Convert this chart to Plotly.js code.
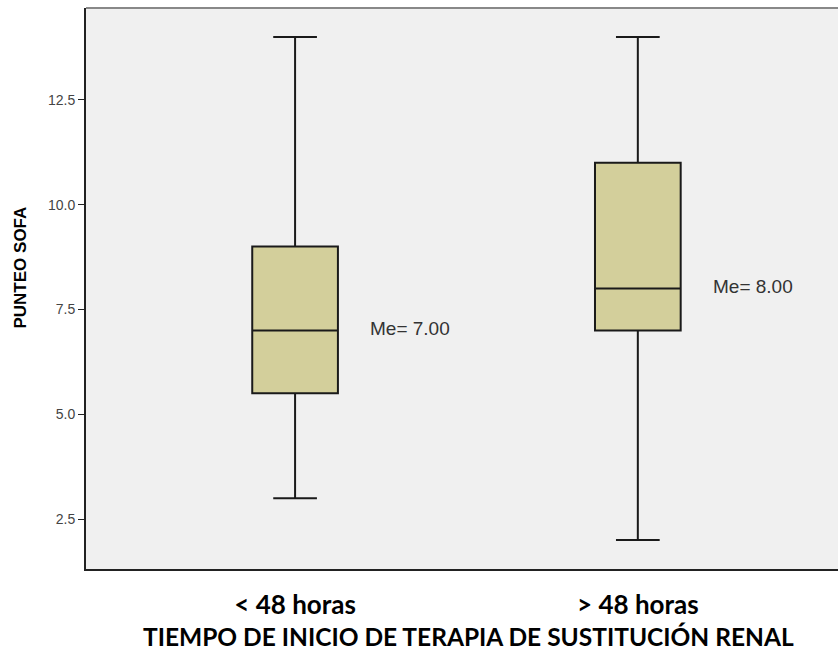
<!DOCTYPE html>
<html>
<head>
<meta charset="utf-8">
<script src="https://cdn.plot.ly/plotly-3.0.1.min.js"></script>
<style>html,body{margin:0;padding:0;background:#fff;}#chart{width:838px;height:655px;}</style>
</head>
<body>
<div id="chart"></div>
<script>
const categories = ["< 48 horas", "> 48 horas"];
const lowerWhisker = [3, 2];
const q1Values = [5.5, 7];
const medians = [7, 8];
const q3Values = [9, 11];
const upperWhisker = [14, 14];
const yTicks = [2.5, 5.0, 7.5, 10.0, 12.5];

const xPos = categories.map((c, i) => i);

const trace = {
  type: 'box',
  x: xPos,
  q1: q1Values,
  median: medians,
  q3: q3Values,
  lowerfence: lowerWhisker,
  upperfence: upperWhisker,
  width: 0.25,
  whiskerwidth: 0.51,
  fillcolor: '#d3cf9b',
  line: {color: '#1a1a1a', width: 2},
  boxpoints: false,
  hoverinfo: 'skip',
  showlegend: false
};

const annotations = medians.map((m, i) => ({
  x: xPos[i] + 0.213,
  y: m,
  xref: 'x', yref: 'y',
  text: 'Me= ' + m.toFixed(2),
  showarrow: false,
  xanchor: 'left',
  yanchor: 'middle',
  yshift: 2,
  font: {family: 'Liberation Sans, Arial, sans-serif', size: 19, color: '#333'}
}));

annotations.push({
  text: 'TIEMPO DE INICIO DE TERAPIA DE SUSTITUCIÓN RENAL',
  xref: 'paper', yref: 'paper',
  x: 0.508, y: 0,
  yshift: -67,
  showarrow: false,
  xanchor: 'center', yanchor: 'middle',
  font: {family: 'Lato, sans-serif', size: 24.5, color: '#000', weight: 'bold'}
});

annotations.push({
  text: 'PUNTEO SOFA',
  xref: 'paper', yref: 'paper',
  x: 0, y: 0.5365,
  xshift: -65.5,
  textangle: -90,
  showarrow: false,
  xanchor: 'center', yanchor: 'middle',
  font: {family: 'Liberation Sans, Arial, sans-serif', size: 17, color: '#000', weight: 'bold'}
});

const layout = {
  width: 838, height: 655,
  margin: {l: 86, r: 0, t: 8, b: 86},
  paper_bgcolor: '#ffffff',
  plot_bgcolor: '#f0f0f0',
  xaxis: {
    range: [-0.61, 1.584],
    tickmode: 'array',
    tickvals: xPos,
    ticktext: categories,
    showgrid: false,
    zeroline: false,
    showline: true,
    linecolor: '#222',
    linewidth: 2,
    ticks: '',
    tickfont: {family: 'Lato, sans-serif', size: 26, color: '#000', weight: 'bold'},
    ticklabelstandoff: 12
  },
  yaxis: {
    range: [1.31, 14.69],
    tickmode: 'array',
    tickvals: yTicks,
    ticktext: yTicks.map(v => v.toFixed(1)),
    showgrid: false,
    zeroline: false,
    showline: true,
    linecolor: '#222',
    linewidth: 2,
    ticks: 'outside',
    ticklen: 6,
    tickcolor: '#222',
    tickwidth: 1,
    tickfont: {family: 'Liberation Sans, Arial, sans-serif', size: 14, color: '#444'}
  },
  shapes: [{
    type: 'line', xref: 'paper', yref: 'paper',
    x0: 0, x1: 1, y0: 1, y1: 1,
    line: {color: '#888', width: 2}
  }],
  annotations: annotations
};

Plotly.newPlot('chart', [trace], layout, {displayModeBar: false, staticPlot: true});
</script>
</body>
</html>
